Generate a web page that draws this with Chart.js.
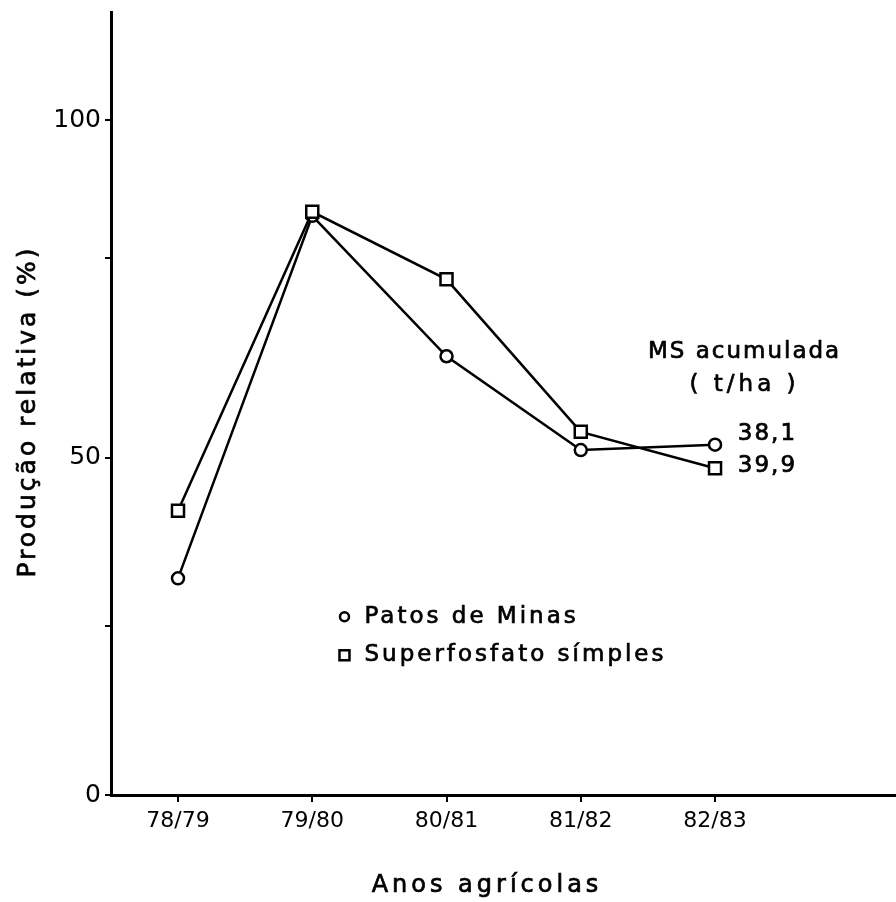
<!DOCTYPE html>
<html>
<head>
<meta charset="utf-8">
<script src="https://cdn.jsdelivr.net/npm/chart.js@4/dist/chart.umd.min.js"></script>
<style>
  html, body { margin: 0; padding: 0; background: #fff; }
  #wrap { width: 896px; height: 902px; }
</style>
</head>
<body>
<div id="wrap"><canvas id="chart" width="896" height="902"></canvas></div>
<script>
// --- Data ---
const years = ["78/79", "79/80", "80/81", "81/82", "82/83"];
const patosDeMinas = [32.1, 85.8, 65.0, 51.1, 51.9];
const superfosfato = [42.1, 86.4, 76.4, 53.8, 48.4];
// tick marks as drawn on the original axis (the upper minor one sits a bit high)
const yTicks = [0, 25, 50, 79.5, 100];
const yLabelled = [0, 50, 100];
const msTotals = ["38,1", "39,9"];

const FONT = "'DejaVu Sans', sans-serif";
const INK = "#000";

const toPoints = (vals) => vals.map((v, i) => ({ x: i, y: v }));

// text with a hairline outline so it reads as heavy as the lettering in the scan
function heavyText(ctx, str, x, y) {
  ctx.fillText(str, x, y);
  ctx.strokeText(str, x, y);
}

// --- Axis titles, text notes and the in-plot legend (drawn with letter spacing) ---
const notes = {
  id: "notes",
  afterDatasetsDraw(chart) {
    const { ctx, chartArea, scales: { x, y } } = chart;
    ctx.save();
    ctx.fillStyle = INK;
    ctx.strokeStyle = INK;
    ctx.lineWidth = 0.7;
    ctx.textBaseline = "middle";

    // axis titles
    ctx.font = `24px ${FONT}`;
    ctx.letterSpacing = "4px";
    ctx.textAlign = "center";
    heavyText(ctx, "Anos agrícolas", 487, 886);

    ctx.save();
    ctx.translate(28, (chartArea.top + chartArea.bottom) / 2 + 8);
    ctx.rotate(-Math.PI / 2);
    ctx.font = `25px ${FONT}`;
    ctx.letterSpacing = "3px";
    heavyText(ctx, "Produção relativa (%)", 0, 0);
    ctx.restore();

    // MS acumulada block
    ctx.font = `23px ${FONT}`;
    ctx.letterSpacing = "2px";
    ctx.textAlign = "center";
    heavyText(ctx, "MS acumulada", x.getPixelForValue(4.22), y.getPixelForValue(65.6));
    ctx.letterSpacing = "4px";
    heavyText(ctx, "( t/ha )", x.getPixelForValue(4.22), y.getPixelForValue(60.7));
    ctx.letterSpacing = "2px";
    ctx.textAlign = "left";
    heavyText(ctx, msTotals[0], x.getPixelForValue(4.17), y.getPixelForValue(53.5));
    heavyText(ctx, msTotals[1], x.getPixelForValue(4.17), y.getPixelForValue(48.7));

    // legend
    const lx = x.getPixelForValue(1.24);
    const ly1 = y.getPixelForValue(26.4);
    const ly2 = y.getPixelForValue(20.7);
    ctx.font = `23px ${FONT}`;
    ctx.letterSpacing = "3px";
    heavyText(ctx, "Patos de Minas", lx + 20, ly1);
    heavyText(ctx, "Superfosfato símples", lx + 20, ly2);
    ctx.lineWidth = 2.5;
    ctx.beginPath();
    ctx.arc(lx, ly1, 4.5, 0, Math.PI * 2);
    ctx.stroke();
    ctx.strokeRect(lx - 5, ly2 - 5, 10, 10);
    ctx.restore();
  },
};

const commonDataset = {
  borderColor: INK,
  borderWidth: 2.5,
  pointBackgroundColor: "#fff",
  pointBorderColor: INK,
  pointBorderWidth: 2.5,
  tension: 0,
};

new Chart(document.getElementById("chart"), {
  type: "line",
  data: {
    datasets: [
      {
        ...commonDataset,
        label: "Patos de Minas",
        data: toPoints(patosDeMinas),
        pointStyle: "circle",
        pointRadius: 6,
        order: 2,
      },
      {
        ...commonDataset,
        label: "Superfosfato símples",
        data: toPoints(superfosfato),
        pointStyle: "rect",
        pointRadius: 8.5,
        order: 1,
      },
    ],
  },
  options: {
    responsive: false,
    animation: false,
    layout: { autoPadding: false, padding: { top: 12, right: 0, left: 0, bottom: 0 } },
    plugins: { legend: { display: false }, tooltip: { enabled: false } },
    scales: {
      x: {
        type: "linear",
        min: -0.499,
        max: 5.348,
        afterBuildTicks: (s) => { s.ticks = years.map((_, i) => ({ value: i })); },
        afterFit: (s) => { s.height = 107; s.paddingRight = 0; s.paddingLeft = 0; },
        ticks: {
          callback: (v) => years[v] ?? "",
          color: INK,
          font: { family: FONT, size: 22 },
          padding: 6,
          maxRotation: 0,
          autoSkip: false,
        },
        grid: { drawOnChartArea: false, drawTicks: true, tickLength: 7, color: INK, lineWidth: 2 },
        border: { display: true, color: INK, width: 3 },
      },
      y: {
        min: 0,
        max: 116,
        afterBuildTicks: (s) => { s.ticks = yTicks.map((v) => ({ value: v })); },
        afterFit: (s) => { s.width = 111; s.paddingTop = 0; s.paddingBottom = 0; },
        ticks: {
          callback: (v) => (yLabelled.includes(v) ? String(v) : ""),
          color: INK,
          font: { family: FONT, size: 25 },
          padding: 4,
        },
        grid: { drawOnChartArea: false, drawTicks: true, tickLength: 6, color: INK, lineWidth: 2 },
        border: { display: true, color: INK, width: 3 },
      },
    },
  },
  plugins: [notes],
});
</script>
</body>
</html>
